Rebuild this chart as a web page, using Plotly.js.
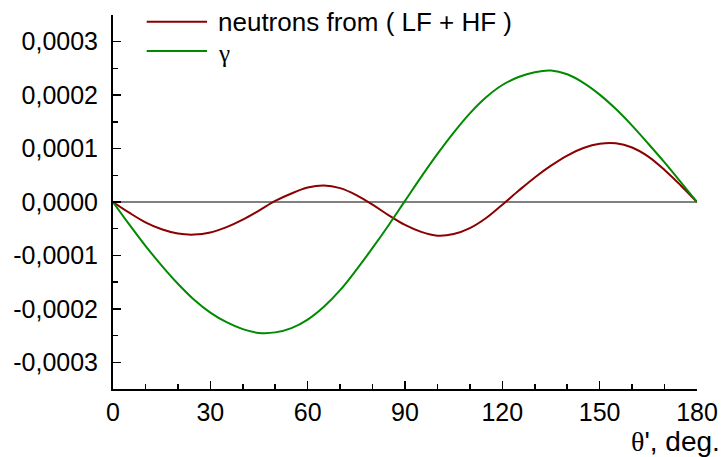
<!DOCTYPE html>
<html>
<head>
<meta charset="utf-8">
<script src="https://cdn.plot.ly/plotly-3.0.1.min.js"></script>
<style>html,body{margin:0;padding:0;background:#fff;}#chart{width:724px;height:457px;}</style>
</head>
<body>
<div id="chart"></div>
<script>
// angle θ' in degrees
const theta = [0,5,10,15,20,25,30,35,40,45,50,55,60,65,70,75,80,85,90,95,100,105,110,115,120,125,130,135,140,145,150,155,160,165,170,175,180];
// neutrons from (LF + HF), values in units of 1e-4
const neutronsE4 = [0,-0.20,-0.38,-0.51,-0.59,-0.61,-0.57,-0.47,-0.33,-0.16,0.02,0.16,0.27,0.31,0.26,0.13,-0.05,-0.25,-0.43,-0.56,-0.63,-0.60,-0.49,-0.30,-0.05,0.21,0.46,0.68,0.87,1.01,1.09,1.10,1.02,0.85,0.60,0.31,0];
// gamma, values in units of 1e-4
const gammaE4 = [0,-0.42,-0.82,-1.19,-1.53,-1.83,-2.07,-2.25,-2.38,-2.45,-2.44,-2.36,-2.20,-1.96,-1.65,-1.27,-0.86,-0.43,0.02,0.47,0.90,1.30,1.66,1.96,2.19,2.34,2.43,2.46,2.39,2.23,2.01,1.74,1.43,1.09,0.74,0.37,0];
const seriesNames = ['neutrons from ( LF + HF )', 'γ'];
const seriesColors = ['#8b0000', '#008a00'];
const xTickVals = [0,30,60,90,120,150,180];
const yTickVals = [-0.0003,-0.0002,-0.0001,0,0.0001,0.0002,0.0003];

const neutrons = neutronsE4.map(v => v * 1e-4);
const gamma = gammaE4.map(v => v * 1e-4);
const yTickText = yTickVals.map(v => v.toFixed(4).replace('.', ','));

const traces = [
  {x: theta, y: neutrons, name: seriesNames[0], mode: 'lines', line: {color: seriesColors[0], width: 2, shape: 'spline', smoothing: 1}},
  {x: theta, y: gamma, name: seriesNames[1], mode: 'lines', line: {color: seriesColors[1], width: 2, shape: 'spline', smoothing: 1}}
];

const tickFont = {family: 'Liberation Sans, Arial, sans-serif', size: 25, color: '#000'};
const layout = {
  width: 724, height: 457,
  margin: {l: 113, r: 27, t: 15, b: 68, pad: 0},
  paper_bgcolor: '#fff', plot_bgcolor: '#fff',
  showlegend: false,
  xaxis: {
    range: [0, 180], tickvals: xTickVals, ticktext: xTickVals.map(String),
    ticks: 'inside', ticklen: 8, tickwidth: 1.5, tickcolor: '#000',
    minor: {dtick: 10, tick0: 0, ticks: 'inside', ticklen: 5, tickwidth: 1.5, tickcolor: '#000', showgrid: false},
    showline: true, linecolor: '#000', linewidth: 2, showgrid: false, zeroline: false,
    tickfont: tickFont, ticklabelstandoff: 0
  },
  yaxis: {
    range: [-0.00035, 0.00035], tickvals: yTickVals, ticktext: yTickText,
    ticks: 'inside', ticklen: 8, tickwidth: 1.5, tickcolor: '#000',
    minor: {dtick: 0.00005, tick0: 0, ticks: 'inside', ticklen: 5, tickwidth: 1.5, tickcolor: '#000', showgrid: false},
    showline: true, linecolor: '#000', linewidth: 2, showgrid: false,
    zeroline: true, zerolinecolor: '#808080', zerolinewidth: 1.5,
    tickfont: tickFont, ticklabelstandoff: 8
  },
  shapes: [
    {type: 'line', xref: 'paper', yref: 'paper', x0: 0.0577, x1: 0.161, y0: 0.982, y1: 0.982, line: {color: seriesColors[0], width: 2}},
    {type: 'line', xref: 'paper', yref: 'paper', x0: 0.0577, x1: 0.161, y0: 0.904, y1: 0.904, line: {color: seriesColors[1], width: 2}}
  ],
  annotations: [
    {xref: 'paper', yref: 'paper', x: 0.1764, y: 0.982, xanchor: 'left', yanchor: 'middle', showarrow: false,
     text: seriesNames[0], font: {family: 'Liberation Sans, Arial, sans-serif', size: 26, color: '#000'}},
    {xref: 'paper', yref: 'paper', x: 0.1764, y: 0.898, xanchor: 'left', yanchor: 'middle', showarrow: false,
     text: seriesNames[1], font: {family: 'Liberation Serif, Times New Roman, serif', size: 25, color: '#000'}},
    {xref: 'paper', yref: 'paper', x: 1.0428, y: -0.14, xanchor: 'right', yanchor: 'middle', showarrow: false,
     text: '<span style="font-family:\'Liberation Serif\', serif">θ</span>\', deg.', font: {family: 'Liberation Sans, Arial, sans-serif', size: 28, color: '#000'}}
  ]
};

Plotly.newPlot('chart', traces, layout, {displayModeBar: false, staticPlot: true});
</script>
</body>
</html>
